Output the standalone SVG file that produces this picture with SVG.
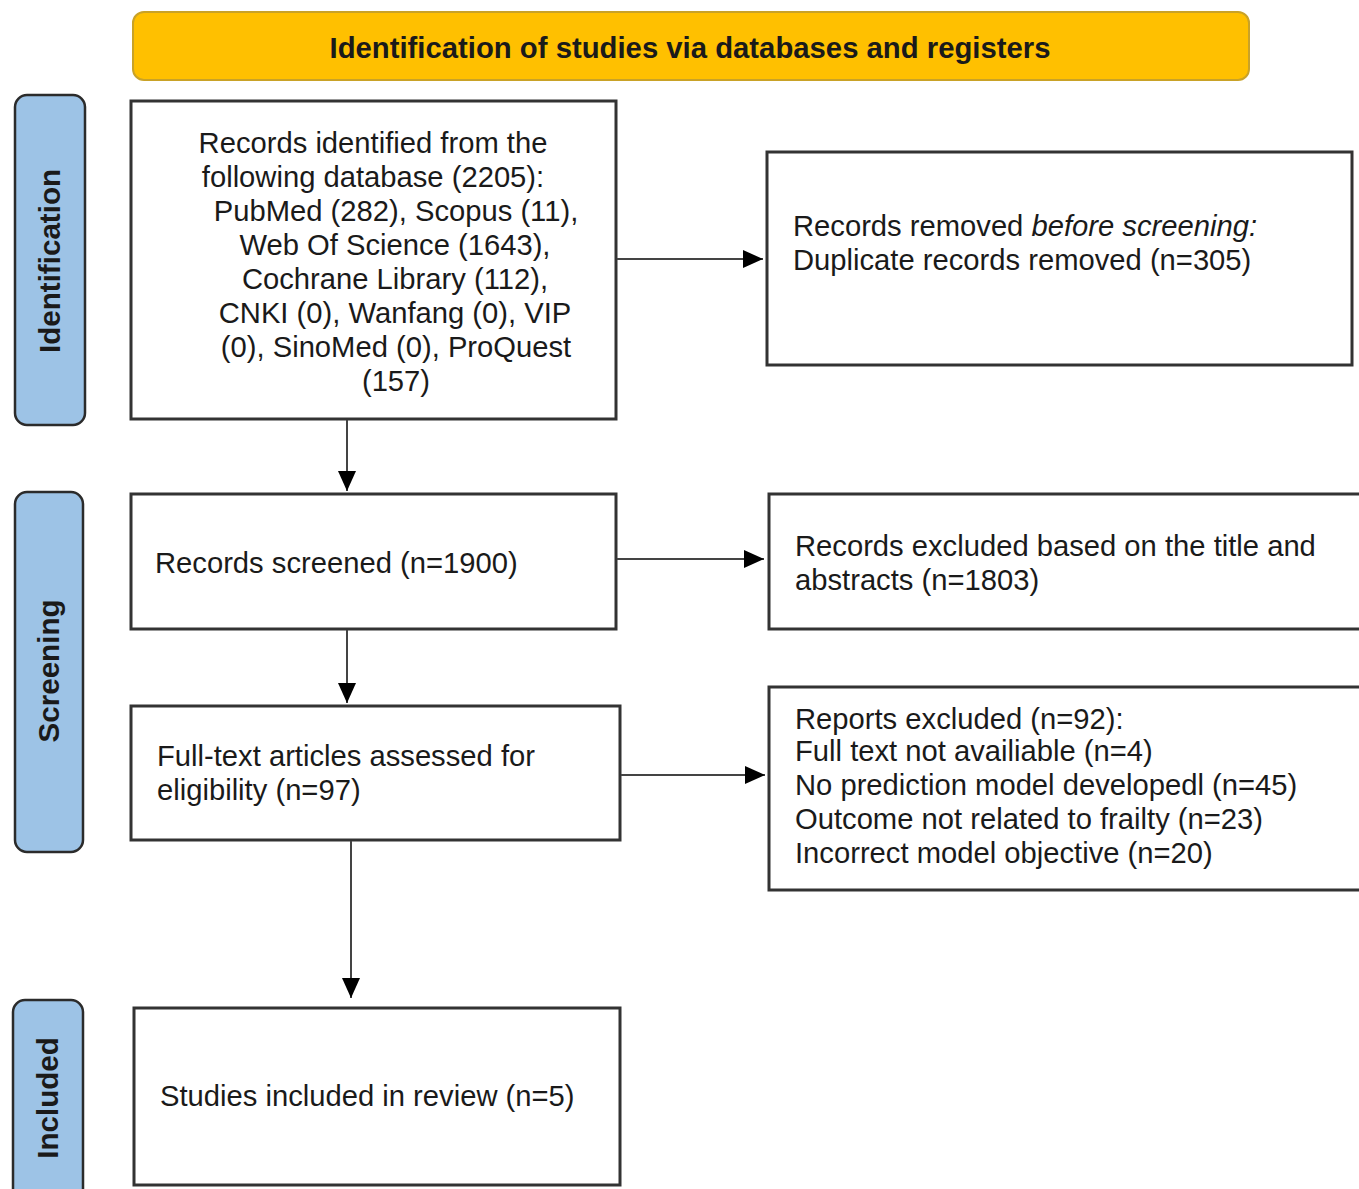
<svg xmlns="http://www.w3.org/2000/svg" width="1359" height="1189" viewBox="0 0 1359 1189">
<style>
  .box { fill: #ffffff; stroke: #333333; stroke-width: 3; }
  .side { fill: #9DC3E6; stroke: #2b2b2b; stroke-width: 2.5; }
  .banner { fill: #FFC000; stroke: #C9A227; stroke-width: 2; }
  .t { font-family: "Liberation Sans", Arial, sans-serif; font-size: 29.2px; fill: #1a1a1a; }
  .c { text-anchor: middle; }
  .b { font-weight: bold; }
  .s { font-size: 29.6px; }
  .conn { stroke: #444444; stroke-width: 2; fill: none; }
</style>
<defs>
  <marker id="ah" viewBox="0 0 20 18" refX="20" refY="9" markerWidth="20" markerHeight="18" markerUnits="userSpaceOnUse" orient="auto">
    <path d="M0,0 L20,9 L0,18 Z" fill="#000000"/>
  </marker>
</defs>
<rect width="1359" height="1189" fill="#ffffff"/>

<g id="banner">
  <rect class="banner" x="133" y="12" width="1116" height="68" rx="11"/>
  <text class="t c b" x="690" y="58" font-size="28" textLength="721" lengthAdjust="spacingAndGlyphs">Identification of studies via databases and registers</text>
</g>

<g id="side-identification">
  <rect class="side" x="15" y="95" width="70" height="330" rx="12"/>
  <text class="t c b s" x="50" y="271" transform="rotate(-90 50 261)">Identification</text>
</g>
<g id="side-screening">
  <rect class="side" x="15" y="492" width="68" height="360" rx="12"/>
  <text class="t c b s" x="49" y="681" transform="rotate(-90 49 671)">Screening</text>
</g>
<g id="side-included">
  <rect class="side" x="13" y="1000" width="70" height="230" rx="12"/>
  <text class="t c b s" x="48" y="1108" transform="rotate(-90 48 1098)">Included</text>
</g>

<g id="records-identified">
  <rect class="box" x="131" y="101" width="485" height="318"/>
  <text class="t c" x="373" y="153">Records identified from the</text>
  <text class="t c" x="373" y="187">following database (2205):</text>
  <text class="t c" x="396" y="221">PubMed (282), Scopus (11),</text>
  <text class="t c" x="395" y="255">Web Of Science (1643),</text>
  <text class="t c" x="395" y="289">Cochrane Library (112),</text>
  <text class="t c" x="395" y="323">CNKI (0), Wanfang (0), VIP</text>
  <text class="t c" x="396" y="357">(0), SinoMed (0), ProQuest</text>
  <text class="t c" x="396" y="391">(157)</text>
</g>

<g id="records-removed">
  <rect class="box" x="767" y="152" width="585" height="213"/>
  <text class="t" x="793" y="236">Records removed <tspan font-style="italic">before screening:</tspan></text>
  <text class="t" x="793" y="270">Duplicate records removed (n=305)</text>
</g>

<g id="records-screened">
  <rect class="box" x="131" y="494" width="485" height="135"/>
  <text class="t" x="155" y="573">Records screened (n=1900)</text>
</g>

<g id="records-excluded">
  <rect class="box" x="769" y="494" width="600" height="135"/>
  <text class="t" x="795" y="556">Records excluded based on the title and</text>
  <text class="t" x="795" y="590">abstracts (n=1803)</text>
</g>

<g id="full-text">
  <rect class="box" x="131" y="706" width="489" height="134"/>
  <text class="t" x="157" y="766">Full-text articles assessed for</text>
  <text class="t" x="157" y="800">eligibility (n=97)</text>
</g>

<g id="reports-excluded">
  <rect class="box" x="769" y="687" width="600" height="203"/>
  <text class="t" x="795" y="729">Reports excluded (n=92):</text>
  <text class="t" x="795" y="761">Full text not availiable (n=4)</text>
  <text class="t" x="795" y="795">No prediction model developedl (n=45)</text>
  <text class="t" x="795" y="829">Outcome not related to frailty (n=23)</text>
  <text class="t" x="795" y="863">Incorrect model objective (n=20)</text>
</g>

<g id="studies-included">
  <rect class="box" x="134" y="1008" width="486" height="177"/>
  <text class="t" x="160" y="1106">Studies included in review (n=5)</text>
</g>

<g id="connectors">
  <line class="conn" x1="617" y1="259" x2="763" y2="259" marker-end="url(#ah)"/>
  <line class="conn" x1="347" y1="420" x2="347" y2="491" marker-end="url(#ah)"/>
  <line class="conn" x1="617" y1="559" x2="764" y2="559" marker-end="url(#ah)"/>
  <line class="conn" x1="347" y1="630" x2="347" y2="703" marker-end="url(#ah)"/>
  <line class="conn" x1="621" y1="775" x2="765" y2="775" marker-end="url(#ah)"/>
  <line class="conn" x1="351" y1="841" x2="351" y2="998" marker-end="url(#ah)"/>
</g>
</svg>
